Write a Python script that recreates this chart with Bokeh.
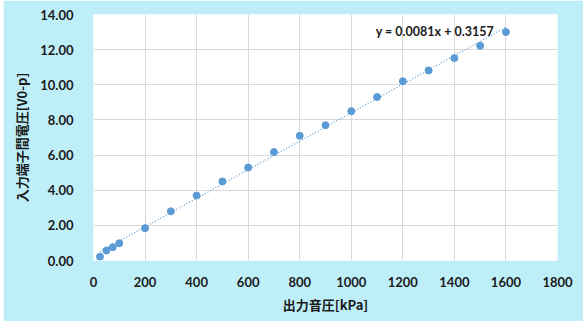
import numpy as np
from bokeh.plotting import figure
from bokeh.models import ColumnDataSource, Range1d, SingleIntervalTicker, NumeralTickFormatter, Label
from bokeh.embed import file_html
from bokeh.resources import INLINE

# data
pressure_kpa = [25, 50, 75, 100, 200, 300, 400, 500, 600, 700, 800, 900, 1000,
                1100, 1200, 1300, 1400, 1500, 1600]
voltage_v0p = [0.22, 0.57, 0.76, 0.98, 1.84, 2.80, 3.70, 4.50, 5.29, 6.17, 7.10,
               7.70, 8.50, 9.30, 10.20, 10.82, 11.52, 12.22, 13.00]
equation_text = "y = 0.0081x + 0.3157"
x_title = "出力音圧[kPa]"
y_title = "入力端子間電圧[V0-p]"

CYAN = "#BEEFF9"
BLUE = "#5B9BD5"
LATIN = "Lato"
CJK = "Noto Sans CJK JP"

p = figure(width=580, height=321, output_backend="svg", toolbar_location=None,
           x_range=Range1d(0, 1800), y_range=Range1d(0, 14),
           min_border_left=90, min_border_right=26, min_border_top=14, min_border_bottom=61)
p.margin = (0, 5, 0, 3)
p.background_fill_color = "white"
p.border_fill_color = CYAN
p.outline_line_color = None

# axes
p.xaxis.ticker = SingleIntervalTicker(interval=200)
p.yaxis.ticker = SingleIntervalTicker(interval=2)
p.yaxis.formatter = NumeralTickFormatter(format="0.00")
for ax in (p.xaxis[0], p.yaxis[0]):
    ax.axis_line_color = None
    ax.major_tick_line_color = None
    ax.minor_tick_line_color = None
    ax.major_label_text_font = LATIN
    ax.major_label_text_font_style = "bold"
    ax.major_label_text_font_size = "13px"
    ax.major_label_text_color = "#1a1a1a"
    ax.axis_label_text_font = CJK
    ax.axis_label_text_font_style = "bold"
    ax.axis_label_text_font_size = "13px"
    ax.axis_label_text_color = "#1a1a1a"
p.xaxis.axis_label = x_title
p.yaxis.axis_label = y_title
p.xaxis.major_label_standoff = 10
p.yaxis.major_label_standoff = 14
p.xaxis.axis_label_standoff = 5
p.yaxis.axis_label_standoff = 6

p.xgrid.grid_line_color = "#D9D9D9"
p.ygrid.grid_line_color = "#D9D9D9"
p.xgrid.grid_line_width = 1
p.ygrid.grid_line_width = 1

# trendline from least squares fit
xs = np.array(pressure_kpa, dtype=float)
ys = np.array(voltage_v0p, dtype=float)
m, b = np.polyfit(xs, ys, 1)
tx = [xs.min(), xs.max()]
ty = [m * tx[0] + b, m * tx[1] + b]
p.line(tx, ty, line_color=BLUE, line_width=1.2, line_dash="1 2")

src = ColumnDataSource(dict(x=pressure_kpa, y=voltage_v0p))
p.scatter("x", "y", source=src, size=7, fill_color=BLUE, line_color=BLUE)

p.add_layout(Label(x=1095, y=13.03, text=equation_text, text_font=LATIN,
                   text_font_style="bold", text_font_size="12.5px",
                   text_color="#1a1a1a", text_baseline="middle", text_align="left"))

open("out.html", "w").write(file_html(p, INLINE))
